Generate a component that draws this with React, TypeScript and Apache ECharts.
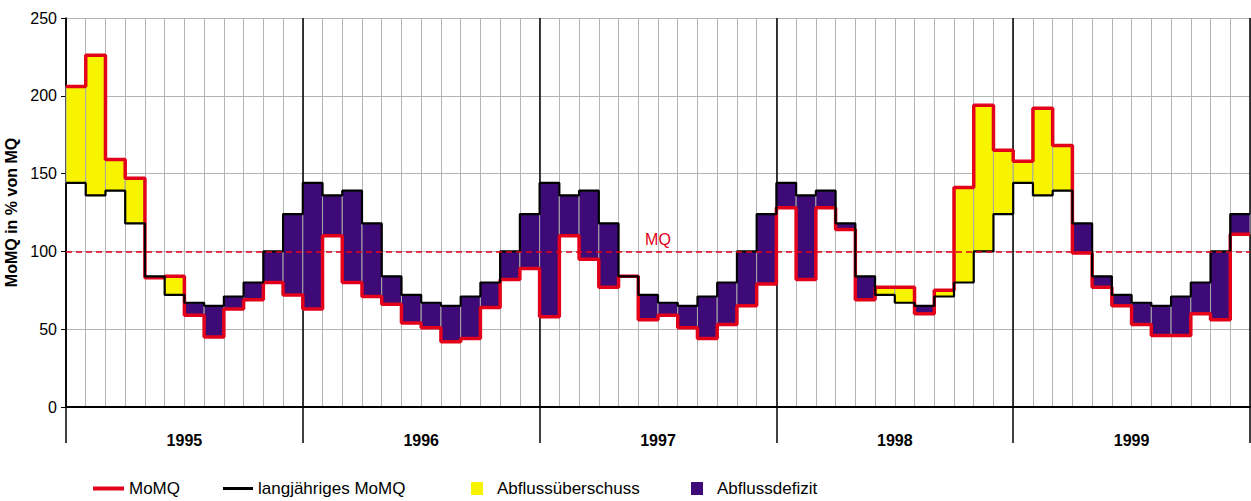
import React, { useEffect, useRef } from "react";
import * as echarts from "echarts";

const years = ["1995", "1996", "1997", "1998", "1999"];
// long-term monthly mean MoMQ (% of MQ), Jan..Dec, same every year
const longTermMonthly = [144, 136, 139, 118, 84, 72, 67, 65, 71, 80, 100, 124];
// MoMQ per year, Jan..Dec
const momq1995 = [206, 226, 159, 147, 83, 84, 59, 45, 63, 69, 80, 72];
const momq1996 = [63, 110, 80, 71, 66, 54, 51, 42, 44, 64, 82, 89];
const momq1997 = [58, 110, 95, 77, 84, 56, 59, 51, 44, 53, 65, 79];
const momq1998 = [128, 82, 128, 114, 69, 77, 77, 60, 75, 141, 194, 165];
const momq1999 = [158, 192, 168, 99, 77, 65, 53, 46, 46, 60, 56, 111];
const yTicks = { min: 0, max: 250, interval: 50 };

const RED = "#e2001a";
const BLACK = "#000000";
const YELLOW = "#f8f400";
const PURPLE = "#3d0a78";
const GRID = "#b4b4b4";
const FONT = "'Liberation Sans', Arial, sans-serif";

export default function App() {
  const ref = useRef<HTMLDivElement>(null);
  useEffect(() => {
    document.body.style.margin = "0";
    if (!ref.current) return;
    const chart = echarts.init(ref.current, null, { renderer: "svg" });

    const momq = [...momq1995, ...momq1996, ...momq1997, ...momq1998, ...momq1999];
    const longTerm = years.flatMap(() => longTermMonthly);
    const n = momq.length;

    const stepData = (arr: number[]) => {
      const d = arr.map((v, i) => [i, v]);
      d.push([n, arr[n - 1]]);
      return d;
    };

    const surplus: number[][] = [];
    const deficit: number[][] = [];
    for (let i = 0; i < n; i++) {
      if (momq[i] > longTerm[i]) surplus.push([i, longTerm[i], momq[i]]);
      else if (momq[i] < longTerm[i]) deficit.push([i, momq[i], longTerm[i]]);
    }

    const rectRender = (color: string) => (params: any, api: any) => {
      const x0 = api.value(0);
      const lo = api.value(1);
      const hi = api.value(2);
      const p0 = api.coord([x0, hi]);
      const p1 = api.coord([x0 + 1, lo]);
      return {
        type: "rect",
        shape: { x: p0[0], y: p0[1], width: p1[0] - p0[0], height: p1[1] - p0[1] },
        style: { fill: color, stroke: "#a9a9a9", lineWidth: 1 },
      };
    };

    const legendText = { fontSize: 17, color: "#000", fontFamily: FONT };
    const legendBase = { top: 480, padding: 0, selectedMode: false };

    chart.setOption({
      animation: false,
      textStyle: { fontFamily: FONT },
      grid: { left: 66, right: 1, top: 18, bottom: 94, containLabel: false, outerBoundsMode: "none" },
      legend: [
        { ...legendBase, data: [{ name: "MoMQ", icon: "rect" }], left: 93, itemWidth: 31, itemHeight: 4, textStyle: legendText },
        { ...legendBase, data: [{ name: "langjähriges MoMQ", icon: "rect" }], left: 223, itemWidth: 30, itemHeight: 3, textStyle: legendText },
        { ...legendBase, data: [{ name: "Abflussüberschuss", icon: "rect" }], left: 471, itemWidth: 12, itemHeight: 13, textStyle: { ...legendText, padding: [0, 0, 0, 9] } },
        { ...legendBase, data: [{ name: "Abflussdefizit", icon: "rect" }], left: 691, itemWidth: 12, itemHeight: 13, textStyle: { ...legendText, padding: [0, 0, 0, 9] } },
      ],
      xAxis: [
        {
          type: "value", min: 0, max: n, interval: 1, offset: 0,
          axisLine: { show: true, onZero: false, lineStyle: { color: BLACK, width: 2 } },
          axisTick: { show: false }, axisLabel: { show: false },
          splitLine: { show: true, lineStyle: { color: GRID, width: 1 } },
        },
        {
          type: "value", min: 0, max: n, interval: 12, offset: 0, position: "bottom",
          axisLine: { show: false },
          axisTick: { show: true, length: 36, inside: false, lineStyle: { color: BLACK, width: 1.5 } },
          axisLabel: { show: false },
          splitLine: { show: true, lineStyle: { color: BLACK, width: 1.5 } },
        },
        {
          type: "category", data: years, boundaryGap: true, position: "bottom", offset: 0,
          axisLine: { show: false }, axisTick: { show: false }, splitLine: { show: false },
          axisLabel: { show: true, fontSize: 16, fontWeight: "bold", color: "#000", margin: 25, fontFamily: FONT },
        },
      ],
      yAxis: {
        type: "value", ...yTicks,
        name: "MoMQ in % von MQ", nameLocation: "middle", nameGap: 40,
        nameTextStyle: { fontSize: 16, fontWeight: "bold", color: "#000", fontFamily: FONT },
        axisLine: { show: true, lineStyle: { color: BLACK, width: 1.5 } },
        axisTick: { show: true, length: 5, lineStyle: { color: BLACK } },
        axisLabel: { fontSize: 16, color: "#000", margin: 9, fontFamily: FONT },
        splitLine: { show: true, lineStyle: { color: GRID, width: 1 } },
      },
      series: [
        {
          name: "Abflussüberschuss", type: "custom", xAxisIndex: 0, renderItem: rectRender(YELLOW),
          itemStyle: { color: YELLOW }, data: surplus, encode: { x: 0, y: [1, 2] }, z: 2,
        },
        {
          name: "Abflussdefizit", type: "custom", xAxisIndex: 0, renderItem: rectRender(PURPLE),
          itemStyle: { color: PURPLE }, data: deficit, encode: { x: 0, y: [1, 2] }, z: 2,
        },
        {
          name: "MoMQ", type: "line", xAxisIndex: 0, step: "end", data: stepData(momq),
          showSymbol: false, symbol: "none", itemStyle: { color: RED },
          lineStyle: { color: RED, width: 3.5 }, z: 3,
        },
        {
          name: "langjähriges MoMQ", type: "line", xAxisIndex: 0, step: "end", data: stepData(longTerm),
          showSymbol: false, symbol: "none", itemStyle: { color: BLACK },
          lineStyle: { color: BLACK, width: 2.2 }, z: 4,
          markLine: {
            silent: true, symbol: "none",
            lineStyle: { color: RED, type: [6, 4], width: 1.5 },
            label: { show: true, formatter: "MQ", position: "insideMiddleTop", color: RED, fontSize: 16, distance: 4, fontFamily: FONT },
            data: [{ yAxis: 100 }],
          },
        },
      ],
    });
    return () => chart.dispose();
  }, []);
  return <div ref={ref} style={{ width: 1251, height: 501 }} />;
}
